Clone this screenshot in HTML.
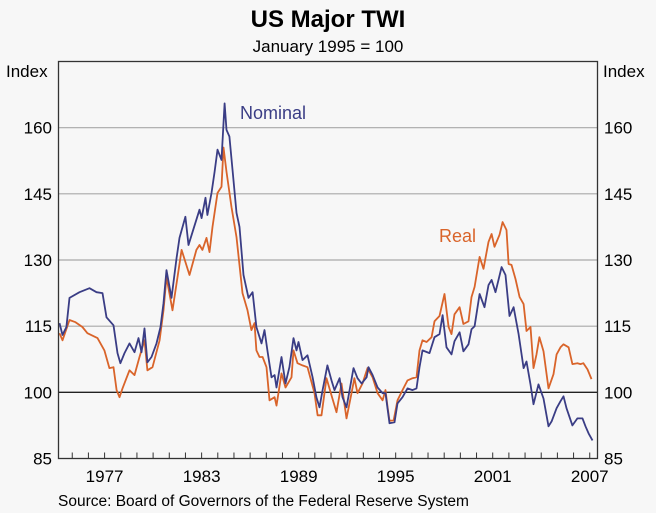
<!DOCTYPE html>
<html><head><meta charset="utf-8"><style>
body{margin:0;background:#f7f7f7;}
svg{display:block;font-family:"Liberation Sans",Arial,sans-serif;}
</style></head><body>
<svg id="chart" width="656" height="513" viewBox="0 0 656 513" xmlns="http://www.w3.org/2000/svg">
<rect x="0" y="0" width="656" height="513" fill="#f7f7f7"/>
<text x="328" y="27" text-anchor="middle" font-size="24" font-weight="bold" fill="#000">US Major TWI</text>
<text x="328" y="52" text-anchor="middle" font-size="17" fill="#000">January 1995 = 100</text>
<text x="6" y="77" font-size="17" fill="#000">Index</text>
<text x="603" y="77" font-size="17" fill="#000">Index</text>
<g id="grid"></g>
<g id="series"></g>
<rect x="58.5" y="61.5" width="539" height="397" fill="none" stroke="#333" stroke-width="1.3"/>
<g id="axes"></g>
<text x="240" y="119" font-size="18" fill="#3a3d85">Nominal</text>
<text x="439" y="242" font-size="18" fill="#d9642a">Real</text>
<text x="58" y="506" font-size="15.5" fill="#000">Source: Board of Governors of the Federal Reserve System</text>
</svg>
<script>
const yTicks=[85,100,115,130,145,160];
const xLabels=[1977,1983,1989,1995,2001,2007];
const nomYears=[1974.21,1974.40,1974.64,1974.83,1975.45,1976.07,1976.5,1976.87,1977.12,1977.55,1977.80,1977.98,1978.23,1978.54,1978.85,1979.10,1979.28,1979.47,1979.65,1979.90,1980.21,1980.46,1980.64,1980.83,1981.14,1981.45,1981.63,1982.00,1982.19,1982.44,1982.87,1983.0,1983.24,1983.36,1983.61,1983.80,1983.98,1984.23,1984.42,1984.54,1984.72,1984.91,1985.16,1985.34,1985.59,1985.90,1986.15,1986.39,1986.70,1986.89,1987.07,1987.32,1987.51,1987.63,1987.94,1988.19,1988.43,1988.68,1988.87,1988.99,1989.24,1989.55,1989.86,1990.10,1990.29,1990.48,1990.78,1991.03,1991.22,1991.53,1991.71,1991.96,1992.15,1992.39,1992.64,1992.89,1993.20,1993.32,1993.57,1993.88,1994.19,1994.37,1994.62,1994.93,1995.11,1995.42,1995.73,1996.04,1996.29,1996.47,1996.66,1997.09,1997.40,1997.71,1997.90,1998.14,1998.45,1998.64,1998.95,1999.19,1999.50,1999.69,1999.88,2000.19,2000.49,2000.74,2000.93,2001.17,2001.55,2001.79,2002.04,2002.29,2002.60,2002.91,2003.09,2003.34,2003.52,2003.83,2004.14,2004.45,2004.64,2004.95,2005.19,2005.38,2005.56,2005.93,2006.24,2006.55,2006.74,2006.93,2007.17];
const nomValues=[115.7,113.0,114.8,121.4,122.7,123.6,122.7,122.5,117.0,115.2,108.9,106.6,108.9,111.1,109.1,112.3,109.1,114.5,106.8,108.0,111.1,114.8,120.2,127.7,121.4,130.5,135.0,139.8,133.4,136.4,141.4,139.5,144.1,140.2,145.2,150.0,155.0,152.7,165.5,159.5,158.0,150.5,140.7,137.5,126.6,121.4,122.7,114.8,111.1,114.1,109.5,103.4,103.9,101.1,108.0,102.0,105.7,112.3,109.5,111.4,107.3,108.4,103.4,98.9,96.6,100.5,106.1,102.7,100.5,103.2,98.9,96.6,100.5,105.5,103.2,102.0,103.4,105.7,103.9,101.1,99.8,99.8,93.0,93.2,97.5,98.9,100.9,100.5,100.9,105.7,109.5,108.9,112.5,113.2,117.5,110.2,108.6,111.6,113.6,109.3,110.9,114.3,115.0,122.3,119.3,124.3,125.5,122.7,128.4,126.6,117.3,119.3,113.2,105.5,107.0,101.8,97.3,101.8,98.6,92.3,93.4,96.4,98.0,99.1,96.4,92.5,94.1,94.1,92.3,90.7,89.1];
const realYears=[1974.21,1974.40,1974.83,1975.2,1975.63,1975.94,1976.56,1976.99,1977.30,1977.55,1977.74,1977.92,1978.11,1978.54,1978.85,1979.16,1979.47,1979.65,1979.96,1980.40,1980.64,1980.83,1981.20,1981.51,1981.76,1982.25,1982.68,1982.87,1983.05,1983.30,1983.49,1983.67,1983.98,1984.23,1984.35,1984.54,1984.85,1985.16,1985.53,1985.84,1986.08,1986.27,1986.39,1986.58,1986.77,1987.01,1987.20,1987.51,1987.63,1987.94,1988.19,1988.56,1988.68,1988.93,1989.24,1989.55,1989.98,1990.17,1990.41,1990.72,1991.03,1991.34,1991.65,1991.96,1992.27,1992.45,1992.64,1992.95,1993.26,1993.57,1993.88,1994.19,1994.37,1994.50,1994.62,1994.87,1995.11,1995.42,1995.73,1996.04,1996.29,1996.47,1996.66,1996.91,1997.22,1997.40,1997.71,1998.02,1998.27,1998.45,1998.64,1998.95,1999.19,1999.50,1999.69,1999.88,2000.19,2000.43,2000.74,2000.93,2001.11,2001.42,2001.61,2001.85,2001.98,2002.16,2002.41,2002.66,2002.91,2003.09,2003.34,2003.52,2003.71,2003.89,2004.14,2004.45,2004.76,2004.95,2005.19,2005.38,2005.69,2005.93,2006.24,2006.43,2006.61,2006.86,2007.11];
const realValues=[113.4,111.8,116.4,115.9,114.8,113.4,112.3,109.5,105.5,105.7,100.5,98.9,100.9,105.0,103.9,108.0,111.8,105.0,105.7,111.8,118.6,126.1,118.6,126.1,132.3,126.6,132.3,133.4,132.3,135.0,131.8,137.5,145.2,146.6,155.5,150.0,142.0,135.2,122.5,118.6,114.1,115.7,109.5,108.0,108.0,105.7,98.2,98.9,97.0,104.3,101.1,103.4,109.5,106.6,106.1,105.7,99.8,94.8,94.8,103.2,99.3,95.5,102.0,94.1,99.8,103.2,99.8,102.0,105.5,103.4,99.8,98.2,100.5,96.6,93.6,93.6,98.2,100.5,102.7,103.2,103.4,109.5,111.8,111.4,112.5,116.1,117.3,122.3,114.8,113.2,117.7,119.3,115.5,116.1,121.6,123.9,130.7,128.0,134.1,135.9,133.0,135.7,138.6,136.8,129.1,128.9,125.7,121.6,120.0,113.9,114.8,105.5,108.6,112.5,109.3,100.9,104.1,108.6,110.2,110.9,110.2,106.4,106.6,106.4,106.6,105.2,103.0];

const NS='http://www.w3.org/2000/svg';
const L=58.5,R=597.5,T=61.5,B=458.5;
const X0=1974.15,X1=2007.48,Y0=85,Y1=175;
function xs(v){return L+(v-X0)/(X1-X0)*(R-L);}
function ys(v){return B-(v-Y0)/(Y1-Y0)*(B-T);}
function mk(tag,attrs,parent){const e=document.createElementNS(NS,tag);for(const k in attrs)e.setAttribute(k,attrs[k]);parent.appendChild(e);return e;}
const grid=document.getElementById('grid'),axes=document.getElementById('axes'),series=document.getElementById('series');
yTicks.forEach(function(t){
  const y=ys(t);
  if(t>85){
    const g=mk('line',{x1:L,x2:R,y1:y,y2:y,stroke:t===100?'#222':'#a8a8a8','stroke-width':t===100?1.3:1.2},grid);
    
    
  }
  const a=mk('text',{x:52,y:y+6,'text-anchor':'end','font-size':17,fill:'#000'},axes);
  a.textContent=t;
  
  
  const b=mk('text',{x:604,y:y+6,'text-anchor':'start','font-size':17,fill:'#000'},axes);
  b.textContent=t;
  
  
});
for(let yr=1975;yr<=2007;yr++){
  const x=xs(yr);
  const tk=mk('line',{x1:x,x2:x,y1:B,y2:B-6,stroke:'#333','stroke-width':1},axes);
  
  
}
xLabels.forEach(function(yr){
  const t=mk('text',{x:xs(yr),y:482,'text-anchor':'middle','font-size':17,fill:'#000'},axes);
  t.textContent=yr;
  
  
});
function line(xsArr,vals,color,name){
  let d='';
  for(let i=0;i<xsArr.length;i++){d+=(i?'L':'M')+xs(xsArr[i]).toFixed(1)+','+ys(vals[i]).toFixed(1);}
  const p=mk('path',{d:d,fill:'none',stroke:color,'stroke-width':1.8,'stroke-linejoin':'round'},series);
  
  
}
line(realYears,realValues,'#d9642a','real-twi-line');
line(nomYears,nomValues,'#3a3d85','nominal-twi-line');
</script>
</body></html>
